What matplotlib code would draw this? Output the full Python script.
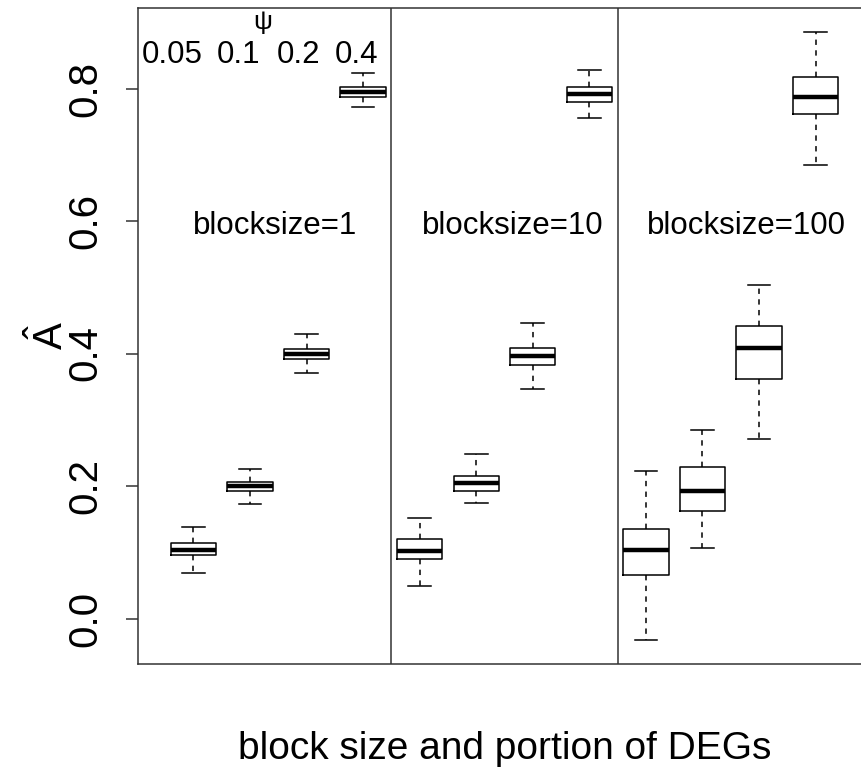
import numpy as np
import matplotlib
matplotlib.use("Agg")
import matplotlib.pyplot as plt

plt.rcParams['font.family'] = ['Liberation Sans', 'DejaVu Sans']
plt.rcParams['mathtext.fontset'] = 'custom'
plt.rcParams['mathtext.rm'] = 'Liberation Sans'
plt.rcParams['mathtext.it'] = 'Liberation Sans'

# groups: blocksize x psi (portion of DEGs)
blocksizes = [1, 10, 100]
psi = ["0.05", "0.1", "0.2", "0.4"]

# box statistics, in plotting order
whis_lo = [0.069, 0.173, 0.371, 0.772, 0.049, 0.175, 0.346, 0.755, -0.032, 0.107, 0.271, 0.685]
q1      = [0.096, 0.192, 0.392, 0.787, 0.090, 0.192, 0.382, 0.780, 0.065, 0.163, 0.362, 0.762]
med     = [0.104, 0.200, 0.399, 0.795, 0.102, 0.205, 0.396, 0.792, 0.104, 0.192, 0.408, 0.788]
q3      = [0.114, 0.206, 0.407, 0.803, 0.120, 0.215, 0.408, 0.803, 0.135, 0.228, 0.441, 0.817]
whis_hi = [0.138, 0.225, 0.430, 0.823, 0.152, 0.248, 0.446, 0.828, 0.223, 0.284, 0.504, 0.885]

yticks = [0.0, 0.2, 0.4, 0.6, 0.8]

stats = []
for i in range(len(med)):
    stats.append(dict(whislo=whis_lo[i], q1=q1[i], med=med[i], q3=q3[i],
                      whishi=whis_hi[i], fliers=[]))

n = len(stats)
pos = np.arange(1, n + 1)

fig = plt.figure(figsize=(8.61, 7.71), dpi=100)
# R-style plot region; right edge falls just outside the picture
ax = fig.add_axes([138 / 861, 1 - 664 / 771, (871 - 138) / 861, (664 - 8) / 771])

ax.bxp(stats, positions=pos, widths=0.8, capwidths=0.4, showfliers=False,
       boxprops=dict(color='black', linewidth=1.1),
       medianprops=dict(color='black', linewidth=3.2, solid_capstyle='butt'),
       whiskerprops=dict(color='black', linewidth=1.1, linestyle=(0, (3.5, 3.5))),
       capprops=dict(color='black', linewidth=1.1))

# separators between blocksize groups
for k in range(1, len(blocksizes)):
    ax.axvline(k * len(psi) + 0.5, color='#333333', linewidth=1.1)

# R default ranges: 4% padding
xr = n - 1 + 1.0
ax.set_xlim(0.5 - 0.04 * xr, n + 0.5 + 0.04 * xr)
lo, hi = min(whis_lo), max(whis_hi)
ax.set_ylim(lo - 0.04 * (hi - lo), hi + 0.04 * (hi - lo))

ax.set_xticks([])
ax.set_yticks(yticks)
ax.set_yticklabels(["%.1f" % v for v in yticks], fontsize=29)
ax.tick_params(axis='y', length=9, width=1.1, color='#333333', pad=15, labelrotation=90)
for lab in ax.get_yticklabels():
    lab.set_va('center')

for side in ['left', 'top', 'bottom', 'right']:
    ax.spines[side].set_color('#333333')
    ax.spines[side].set_linewidth(1.1)

# group labels
label_x = [2.45, 6.64, 10.78]
for bs, x in zip(blocksizes, label_x):
    ax.text(x, 0.592, "blocksize=%d" % bs, fontsize=22.5, ha='center', va='center')

# psi legend along the top of the first panel
psi_x = [0.63, 1.80, 2.86, 3.88]
for s, x in zip(psi, psi_x):
    ax.text(x, 0.851, s, fontsize=22.5, ha='center', va='center')
ax.text(2.22, 0.90, "\u03c8", fontsize=19, ha='center', va='center')

ax.set_xlabel("block size and portion of DEGs", fontsize=28)
ax.xaxis.set_label_coords(0.5, -0.102)
ax.xaxis.label.set_va('top')
ax.set_ylabel(r"$\hat{\mathrm{A}}$", fontsize=29)
ax.yaxis.set_label_coords(-0.092, 0.5)

fig.savefig("out.png", dpi=100)
